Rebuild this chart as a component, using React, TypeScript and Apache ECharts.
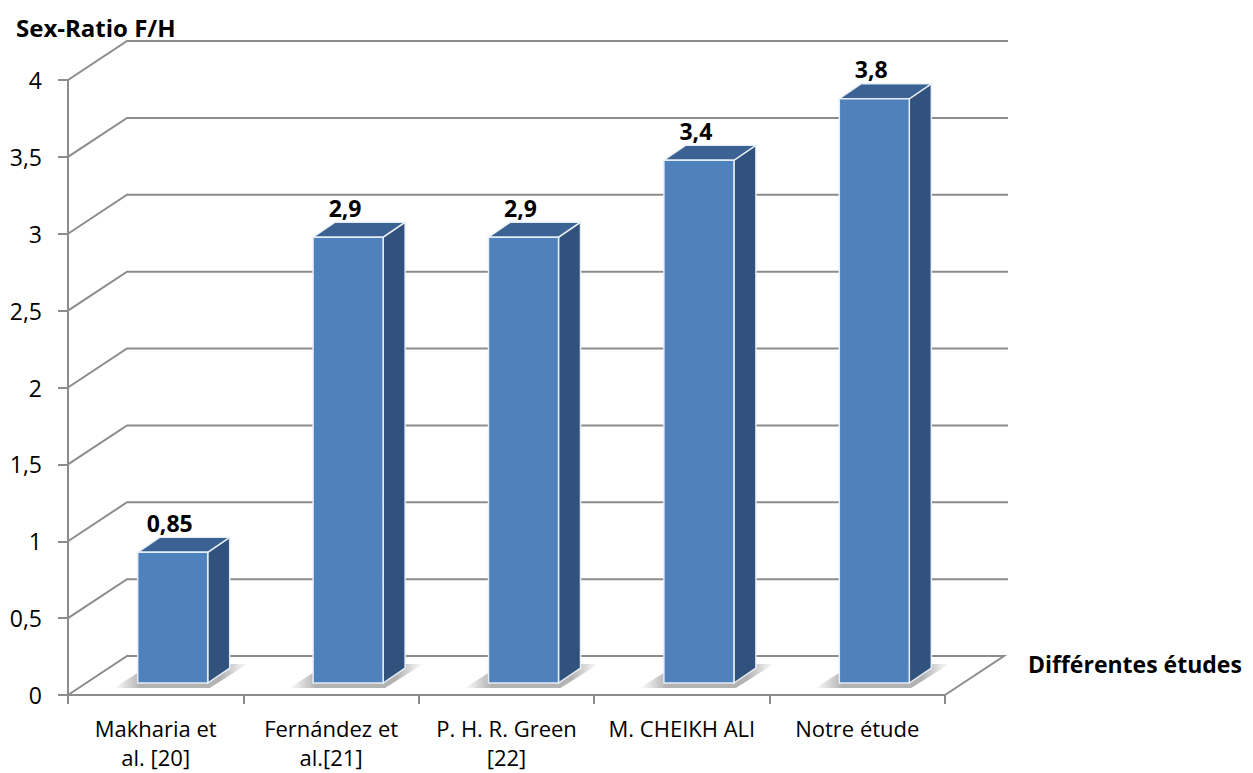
import React, { useEffect, useRef } from "react";
import * as echarts from "echarts";

// Studies compared and their female / male sex ratio
const categories = [
  "Makharia et\nal. [20]",
  "Fernández et\nal.[21]",
  "P. H. R. Green\n[22]",
  "M. CHEIKH ALI",
  "Notre étude",
];
const sexRatio = [0.85, 2.9, 2.9, 3.4, 3.8];
const yTicks = [0, 0.5, 1, 1.5, 2, 2.5, 3, 3.5, 4];

const FONT = "'Open Sans', Lato, sans-serif";
const FONT_SIZE = 23;
const GRID_GRAY = "#8c8c8c";

// Perspective offsets for the pseudo-3D look
const DEPTH_X = 59;
const DEPTH_Y = -39;
const BAR_SHIFT_X = 17;
const BAR_SHIFT_Y = -12;
const BAR_HALF_W = 35;
const BAR_DX = 22;
const BAR_DY = -15;

const fmt = (v: number) => String(v).replace(".", ",");

export default function App() {
  const ref = useRef<HTMLDivElement>(null);

  useEffect(() => {
    if (!ref.current) return;
    const chart = echarts.init(ref.current, undefined, { renderer: "svg" });

    const wallSeries = {
      type: "custom",
      coordinateSystem: "cartesian2d",
      silent: true,
      z: 1,
      data: yTicks.map((v) => [0, v]),
      renderItem: (_params: any, api: any) => {
        const v = api.value(1);
        const first = api.coord([0, v]);
        const last = api.coord([categories.length - 1, v]);
        const half = api.size([1, 0])[0] / 2;
        const xl = first[0] - half;
        const xr = last[0] + half;
        const y = first[1];
        const pts =
          v === 0
            ? [
                [xl, y],
                [xl + DEPTH_X, y + DEPTH_Y],
                [xr + DEPTH_X, y + DEPTH_Y],
                [xr, y],
              ]
            : [
                [xl, y],
                [xl + DEPTH_X, y + DEPTH_Y],
                [xr + DEPTH_X + 4, y + DEPTH_Y],
              ];
        return {
          type: "polyline",
          shape: { points: pts },
          style: { stroke: GRID_GRAY, lineWidth: 2, fill: "none" },
        };
      },
    };

    const barData = sexRatio.map((v, i) => [i, v]);

    // soft floor shadow cast by each bar
    const shadowSeries = {
      type: "custom",
      coordinateSystem: "cartesian2d",
      silent: true,
      z: 2,
      data: barData,
      renderItem: (_params: any, api: any) => {
        const i = api.value(0);
        const base = api.coord([i, 0]);
        const cx = base[0] + BAR_SHIFT_X;
        const by = base[1] + BAR_SHIFT_Y;
        const x0 = cx - BAR_HALF_W;
        const x1 = cx + BAR_HALF_W;
        return {
          type: "polygon",
          shape: {
            points: [
              [x0 - 24, by + 5],
              [x1 + 2, by + 5],
              [x1 + BAR_DX + 18, by + BAR_DY - 4],
              [x0 + BAR_DX - 8, by + BAR_DY - 4],
            ],
          },
          style: {
            fill: {
              type: "linear",
              x: 0,
              y: 0,
              x2: 1,
              y2: 0,
              colorStops: [
                { offset: 0, color: "rgba(0,0,0,0)" },
                { offset: 0.2, color: "rgba(0,0,0,0.3)" },
                { offset: 0.8, color: "rgba(0,0,0,0.3)" },
                { offset: 1, color: "rgba(0,0,0,0)" },
              ],
            },
          },
        };
      },
    };

    const barSeries = {
      type: "custom",
      coordinateSystem: "cartesian2d",
      z: 3,
      data: barData,
      renderItem: (_params: any, api: any) => {
        const i = api.value(0);
        const v = api.value(1);
        const base = api.coord([i, 0]);
        const top = api.coord([i, v]);
        const h = base[1] - top[1];
        const cx = base[0] + BAR_SHIFT_X;
        const by = base[1] + BAR_SHIFT_Y;
        const ty = by - h;
        const x0 = cx - BAR_HALF_W;
        const x1 = cx + BAR_HALF_W;
        const edge = { stroke: "rgba(235,241,248,0.95)", lineWidth: 1.5 };
        return {
          type: "group",
          children: [
            {
              type: "polygon",
              shape: {
                points: [
                  [x1, by],
                  [x1 + BAR_DX, by + BAR_DY],
                  [x1 + BAR_DX, ty + BAR_DY],
                  [x1, ty],
                ],
              },
              style: { fill: "#31527c", ...edge },
            },
            {
              type: "polygon",
              shape: {
                points: [
                  [x0, ty],
                  [x0 + BAR_DX, ty + BAR_DY],
                  [x1 + BAR_DX, ty + BAR_DY],
                  [x1, ty],
                ],
              },
              style: { fill: "#3b6292", ...edge },
            },
            {
              type: "rect",
              shape: { x: x0, y: ty, width: x1 - x0, height: h },
              style: { fill: "#4f81bd", ...edge },
            },
            {
              type: "text",
              x: cx - 3,
              y: ty + BAR_DY - 3,
              style: {
                text: fmt(v),
                fill: "#000",
                font: `bold ${FONT_SIZE}px ${FONT}`,
                align: "center",
                verticalAlign: "bottom",
              },
            },
          ],
        };
      },
    };

    chart.setOption({
      animation: false,
      backgroundColor: "#ffffff",
      grid: { left: 68, right: 308, top: 80, bottom: 78 },
      xAxis: {
        type: "category",
        data: categories,
        axisLine: { show: true, lineStyle: { color: GRID_GRAY, width: 2 } },
        axisTick: { show: true, length: 9, lineStyle: { color: GRID_GRAY, width: 2 } },
        axisLabel: {
          color: "#000",
          fontFamily: FONT,
          fontSize: 22,
          lineHeight: 29,
          margin: 18,
          interval: 0,
        },
        splitLine: { show: false },
      },
      yAxis: {
        type: "value",
        min: 0,
        max: 4,
        interval: 0.5,
        axisLine: { show: true, lineStyle: { color: GRID_GRAY, width: 2 } },
        axisTick: { show: true, length: 10, lineStyle: { color: GRID_GRAY, width: 2 } },
        axisLabel: {
          color: "#000",
          fontFamily: FONT,
          fontSize: FONT_SIZE,
          margin: 26,
          formatter: (v: number) => fmt(v),
        },
        splitLine: { show: false },
      },
      graphic: [
        {
          type: "text",
          x: 16,
          y: 27,
          style: {
            text: "Sex-Ratio F/H",
            fill: "#000",
            font: `bold 24px ${FONT}`,
            verticalAlign: "middle",
          },
        },
        {
          type: "text",
          x: 1028,
          y: 664,
          style: {
            text: "Différentes études",
            fill: "#000",
            font: `bold ${FONT_SIZE}px ${FONT}`,
            verticalAlign: "middle",
          },
        },
      ],
      series: [wallSeries, shadowSeries, barSeries],
    });

    return () => chart.dispose();
  }, []);

  return (
    <div
      ref={ref}
      style={{ position: "fixed", left: 0, top: 0, width: 1253, height: 773 }}
    />
  );
}
